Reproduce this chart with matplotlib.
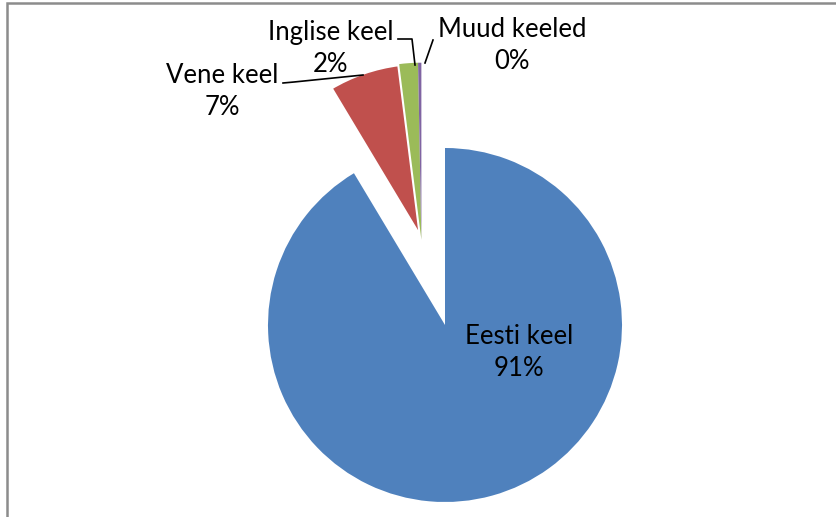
import numpy as np
import matplotlib.pyplot as plt
from matplotlib.patches import Rectangle

# Keelte jaotus (sektordiagramm)
keeled = ['Eesti keel', 'Vene keel', 'Inglise keel', 'Muud keeled']
osakaal = [91.4, 6.6, 1.7, 0.3]
varvid = ['#4F81BD', '#C0504D', '#9BBB59', '#8064A2']
eraldus = 0.5   # väikeste sektorite nihe raadiuse suhtes

W, H = 837, 517
CX, CY, R = 445, 325, 177   # pirukas pikslites


def px(x, y):
    # pikslid -> andmekoordinaadid
    return (x - CX) / R, (CY - y) / R


fig = plt.figure(figsize=(W / 100, H / 100), dpi=100)
ax = fig.add_axes([0, 0, 1, 1])

wedges, _ = ax.pie(osakaal, colors=varvid, startangle=90,
                   counterclock=False, radius=1, center=(0, 0),
                   wedgeprops=dict(linewidth=0))

# väikesed sektorid nihutatakse koos (nagu Excelis) nende ühise keskjoone suunas
muud = sum(osakaal[1:]) / sum(osakaal) * 360
nurk = np.deg2rad(90 + muud / 2)
for w in wedges[1:]:
    w.set_center((eraldus * np.cos(nurk), eraldus * np.sin(nurk)))
# kitsas vahe punase ja rohelise vahel
wedges[1].set_edgecolor('white')
wedges[1].set_linewidth(3)

# pie muudab piire, seega alles pärast
ax.set_xlim(px(0, 0)[0], px(W, 0)[0])
ax.set_ylim(px(0, H)[1], px(0, 0)[1])
ax.set_aspect('equal')
ax.axis('off')

# raam
fig.patches.append(Rectangle((7 / W, -0.1), 1.2, 1 - 3 / H + 0.1,
                             transform=fig.transFigure, fill=False,
                             edgecolor='#8c8c8c', linewidth=1.8))

silt = [f'{k}\n{round(v)}%' for k, v in zip(keeled, osakaal)]
kohad = [(519, 352), (222, 91), (331, 48), (512, 45)]
for s, (x, y) in zip(silt, kohad):
    ax.text(*px(x, y), s, ha='center', va='center', fontsize=18.5,
            family='Lato', linespacing=1.35, color='black')

# juhtjooned
jooned = [
    [(283, 83), (294, 82), (363, 75)],
    [(398, 39), (412, 39), (415, 65)],
    [(433, 40), (425, 63)],
]
for j in jooned:
    xs, ys = zip(*[px(x, y) for x, y in j])
    ax.plot(xs, ys, color='black', linewidth=1.2)

fig.savefig('out.png', dpi=100)
